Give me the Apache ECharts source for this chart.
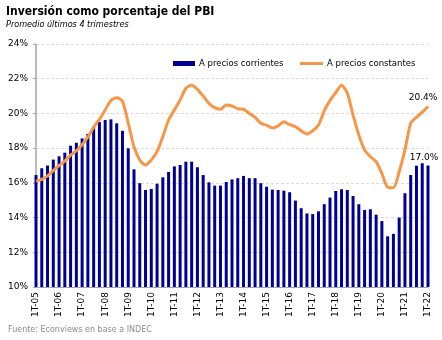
<!DOCTYPE html>
<html>
<head>
<meta charset="utf-8">
<script src="https://cdn.jsdelivr.net/npm/echarts@6/dist/echarts.min.js"></script>
<style>
  html, body { margin: 0; padding: 0; background: #fff; }
  #chart { width: 442px; height: 340px; }
</style>
</head>
<body>
<div id="chart"></div>
<script>
// Trimestres 1T-05 .. 1T-22
const trimestres = [
  '1T-05','2T-05','3T-05','4T-05','1T-06','2T-06','3T-06','4T-06',
  '1T-07','2T-07','3T-07','4T-07','1T-08','2T-08','3T-08','4T-08',
  '1T-09','2T-09','3T-09','4T-09','1T-10','2T-10','3T-10','4T-10',
  '1T-11','2T-11','3T-11','4T-11','1T-12','2T-12','3T-12','4T-12',
  '1T-13','2T-13','3T-13','4T-13','1T-14','2T-14','3T-14','4T-14',
  '1T-15','2T-15','3T-15','4T-15','1T-16','2T-16','3T-16','4T-16',
  '1T-17','2T-17','3T-17','4T-17','1T-18','2T-18','3T-18','4T-18',
  '1T-19','2T-19','3T-19','4T-19','1T-20','2T-20','3T-20','4T-20',
  '1T-21','2T-21','3T-21','4T-21','1T-22'
];

// Inversión / PBI, a precios corrientes (%)
const preciosCorrientes = [
  16.45, 16.84, 17.0, 17.34,
  17.53, 17.74, 18.14, 18.31,
  18.56, 18.82, 19.24, 19.51,
  19.62, 19.66, 19.43, 19.0,
  17.99, 16.78, 15.98, 15.59,
  15.65, 15.95, 16.32, 16.63,
  16.95, 17.03, 17.22, 17.22,
  16.9, 16.45, 16.03, 15.84,
  15.84, 16.05, 16.2, 16.27,
  16.4, 16.27, 16.27, 15.98,
  15.78, 15.61, 15.59, 15.55,
  15.46, 14.98, 14.54, 14.24,
  14.2, 14.36, 14.77, 15.15,
  15.53, 15.63, 15.59, 15.24,
  14.77, 14.44, 14.48, 14.17,
  13.8, 12.92, 13.06, 14.0,
  15.4, 16.45, 16.99, 17.13,
  17.0
];

// Inversión / PBI, a precios constantes (%)
const preciosConstantes = [
  16.1, 16.2, 16.4, 16.7,
  17.0, 17.25, 17.6, 17.85,
  18.2, 18.65, 19.2, 19.66,
  20.2, 20.75, 20.9, 20.7,
  19.45, 18.08, 17.32, 17.03,
  17.32, 17.8, 18.66, 19.62,
  20.2, 20.77, 21.45, 21.62,
  21.39, 21.0, 20.58, 20.33,
  20.24, 20.49, 20.43, 20.27,
  20.24, 20.0, 19.78, 19.43,
  19.32, 19.16, 19.28, 19.52,
  19.35, 19.24, 19.0, 18.82,
  19.0, 19.33, 20.15, 20.75,
  21.2, 21.62, 21.16, 19.91,
  18.76, 17.9, 17.51, 17.22,
  16.55, 15.75, 15.72, 16.64,
  17.9, 19.43, 19.78, 20.07,
  20.4
];

const nombres = ['A precios corrientes', 'A precios constantes'];
const ultimo = trimestres.length - 1;

const baseFont = 'DejaVu Sans';
const condFont = '"DejaVu Sans Condensed", "DejaVu Sans"';
const pct = (v) => v.toFixed(1) + '%';

const chart = echarts.init(document.getElementById('chart'), null, { renderer: 'canvas' });

const legendText = { fontFamily: baseFont, fontSize: 8.5, color: '#000', padding: [0, 0, 0, -1] };

chart.setOption({
  animation: false,
  backgroundColor: '#ffffff',
  title: [
    {
      text: 'Inversión como porcentaje del PBI',
      left: 6, top: 6, padding: 0,
      textStyle: { fontFamily: condFont, fontSize: 12, fontWeight: 'bold', color: '#000' }
    },
    {
      text: 'Promedio últimos 4 trimestres',
      left: 6, top: 20, padding: 0,
      textStyle: { fontFamily: condFont, fontSize: 9, fontStyle: 'italic', fontWeight: 'normal', color: '#000' }
    },
    {
      text: 'Fuente: Econviews en base a INDEC',
      left: 8, top: 326, padding: 0,
      textStyle: { fontFamily: baseFont, fontSize: 8, fontWeight: 'normal', color: '#8c8c8c' }
    }
  ],
  legend: [
    {
      left: 173, top: 59, padding: 0,
      itemWidth: 22, itemHeight: 5,
      textStyle: legendText,
      data: [{ name: nombres[0], icon: 'rect' }]
    },
    {
      left: 300, top: 59, padding: 0,
      itemWidth: 23, itemHeight: 5,
      textStyle: legendText,
      data: [{ name: nombres[1], icon: 'path://M0,1 L23,1 L23,4 L0,4 Z' }]
    }
  ],
  grid: { left: 36, right: 14, top: 44, bottom: 53, containLabel: false },
  xAxis: {
    type: 'category',
    data: trimestres,
    boundaryGap: false,
    axisLine: { show: true, lineStyle: { color: '#a6a6a6', width: 1 } },
    axisTick: { show: false },
    axisLabel: {
      interval: 3,
      rotate: 90,
      margin: 5,
      fontFamily: baseFont, fontSize: 9, color: '#000'
    },
    splitLine: { show: false }
  },
  yAxis: {
    type: 'value',
    min: 10, max: 24, interval: 2,
    axisLine: { show: true, lineStyle: { color: '#a6a6a6', width: 1.5 } },
    axisTick: { show: true, length: 3, lineStyle: { color: '#a6a6a6' } },
    axisLabel: {
      formatter: '{value}%',
      margin: 8,
      fontFamily: baseFont, fontSize: 9, color: '#000'
    },
    splitLine: { show: true, lineStyle: { color: '#dcdcdc', type: [3, 2], width: 1 } }
  },
  series: [
    {
      name: nombres[0],
      type: 'bar',
      data: preciosCorrientes.map((v, i) => i === ultimo
        ? { value: v, label: { show: true, position: 'top', distance: 3, offset: [-4, 0],
            formatter: (p) => pct(p.value),
            fontFamily: baseFont, fontSize: 9, color: '#000' } }
        : v),
      barWidth: 3,
      itemStyle: { color: '#000096' },
      z: 2
    },
    {
      name: nombres[1],
      type: 'line',
      data: preciosConstantes,
      symbol: 'none',
      smooth: 0.25,
      lineStyle: { color: '#f79646', width: 3 },
      itemStyle: { color: '#f79646' },
      endLabel: {
        show: true,
        formatter: (p) => pct(p.value),
        distance: 0,
        align: 'center',
        verticalAlign: 'bottom',
        offset: [-5, -4],
        fontFamily: baseFont, fontSize: 9, color: '#000'
      },
      z: 3
    }
  ]
});
</script>
</body>
</html>
